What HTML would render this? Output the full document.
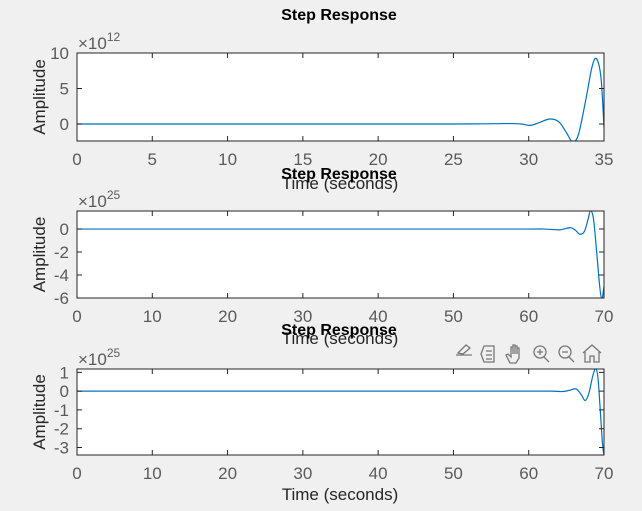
<!DOCTYPE html>
<html><head><meta charset="utf-8"><style>
html,body{margin:0;padding:0;background:#f0f0f0;}
svg{display:block;font-family:"Liberation Sans",sans-serif;}
</style></head><body>
<svg id="fig" width="642" height="511" viewBox="0 0 642 511">
<rect width="642" height="511" fill="#f0f0f0"/>
<g id="tb" fill="none" stroke="#777" stroke-width="1.3" transform="translate(0,-35)">
<g><path d="M458 388 l8 -8 l4 3 l-7 6 z M456 390 h16"/></g>
<g><path d="M484 381 h10 v16 h-10 l-3 -8 z M486 386 h6 M486 390 h6 M486 394 h6"/></g>
<g><path d="M510 398 l-4 -8 l2 -1 l3 3 v-10 h2 v7 v-9 h2 v9 v-8 h2 v8 v-6 h2 v10 l-3 5 z"/></g>
<g><circle cx="540" cy="387" r="6"/><path d="M544 392 l5 5 M537 387 h6 M540 384 v6"/></g>
<g><circle cx="565" cy="387" r="6"/><path d="M569 392 l5 5 M562 387 h6"/></g>
<g><path d="M583 388 l9 -8 l9 8 M585 387 v10 h5 v-6 h4 v6 h5 v-10"/></g>
</g>
</svg>
<script>
const t1=[0,5,10,15,20,25,27,28.5,29.5,30.1,30.7,31.4,32,32.5,32.9,33.3,33.8,34.2,34.5,34.8,35];
const y1=[0,0,0,0,0,0,0.02,0.06,0.0,-0.2,0.2,0.7,0.3,-1.2,-2.5,-1.5,3.5,8.0,9.2,6.5,-0.5];
const t2=[0,10,20,30,40,50,60,62,64,65,65.6,66.2,66.8,67.4,67.9,68.2,68.6,69,69.4,69.7,70];
const y2=[0,0,0,0,0,0,0,0,-0.07,0.05,0.12,-0.1,-0.45,-0.2,0.9,1.6,0.9,-1.8,-4.8,-6.1,-5.0];
const t3=[0,10,20,30,40,50,60,63,64.5,65.5,66.3,67,67.5,68,68.5,68.9,69.2,69.5,69.8,70];
const y3=[0,0,0,0,0,0,0,0,-0.02,0.05,0.12,-0.2,-0.5,-0.1,0.8,1.2,0.7,-1.0,-2.8,-3.4];
const xt1=[0,5,10,15,20,25,30,35],yt1=[0,5,10];
const xt2=[0,10,20,30,40,50,60,70],yt2=[-6,-4,-2,0];
const yt3=[-3,-2,-1,0,1];
const NS="http://www.w3.org/2000/svg",svg=document.getElementById('fig');
function mk(tag,attrs,parent,txt){const e=document.createElementNS(NS,tag);for(const k in attrs)e.setAttribute(k,attrs[k]);if(txt!==undefined)e.textContent=txt;(parent||svg).appendChild(e);return e;}
function smooth(P){let d='M'+P[0][0].toFixed(2)+' '+P[0][1].toFixed(2);
  for(let i=0;i<P.length-1;i++){const p0=P[Math.max(0,i-1)],p1=P[i],p2=P[i+1],p3=P[Math.min(P.length-1,i+2)];
    const c1=[p1[0]+(p2[0]-p0[0])/6,p1[1]+(p2[1]-p0[1])/6],c2=[p2[0]-(p3[0]-p1[0])/6,p2[1]-(p3[1]-p1[1])/6];
    d+=`C${c1[0].toFixed(2)} ${c1[1].toFixed(2)} ${c2[0].toFixed(2)} ${c2[1].toFixed(2)} ${p2[0].toFixed(2)} ${p2[1].toFixed(2)}`;}
  return d;}
function panel(i,top,bot,xmax,ymin,ymax,xt,yt,ts,ys,expo,titleY,xlabY){
  const L=77,R=604;
  const xs=v=>L+(v/xmax)*(R-L), yv=v=>bot-(v-ymin)/(ymax-ymin)*(bot-top);
  const g=mk('g',{});
  
  
  const r=mk('rect',{x:L,y:top,width:R-L,height:bot-top,fill:'#fff'},g);
  
  
  const cp=mk('clipPath',{id:'c'+i},g);mk('rect',{x:L,y:top,width:R-L,height:bot-top},cp);
  const P=ts.map((t,k)=>[xs(t),yv(ys[k])]);
  const ln=mk('path',{d:smooth(P),fill:'none',stroke:'#0072bd',"stroke-width":1.2,"stroke-linejoin":"round","clip-path":'url(#c'+i+')'},g);
  
  
  mk('rect',{x:L,y:top,width:R-L,height:bot-top,fill:'none',stroke:'#262626',"stroke-width":1},g);
  xt.forEach(v=>{const x=xs(v);mk('path',{d:`M${x} ${bot}v-5M${x} ${top}v5`,stroke:'#262626'},g);
    const tx=mk('text',{x:x,y:bot+24,"text-anchor":'middle',"font-size":17,fill:'#5a5a5a'},g,String(v));
    
    });
  yt.forEach(v=>{const y=yv(v);mk('path',{d:`M${L} ${y}h5M${R} ${y}h-5`,stroke:'#262626'},g);
    const tx=mk('text',{x:L-8,y:y+6,"text-anchor":'end',"font-size":17,fill:'#5a5a5a'},g,String(v));
    
    });
  const ex=mk('text',{x:78,y:top-4,"font-size":17,fill:'#5a5a5a'},g);
  
  
  mk('tspan',{},ex,'×10');mk('tspan',{dy:-8,"font-size":12},ex,expo);
  const yl=mk('text',{x:0,y:0,transform:`translate(45 ${(top+bot)/2}) rotate(-90)`,"text-anchor":'middle',"font-size":17,fill:'#262626'},g,'Amplitude');
  
  
  const xl=mk('text',{x:340,y:xlabY,"text-anchor":'middle',"font-size":17,fill:'#262626'},g,'Time (seconds)');
  
  
  const tt=mk('text',{x:339,y:titleY,"text-anchor":'middle',"font-size":16,"font-weight":'bold',fill:'#000'},g,'Step Response');
  
  
}
panel(1,53,141,35,-2.4,10,xt1,yt1,t1,y1,'12',20,189);
panel(2,211,298,70,-6,1.57,xt2,yt2,t2,y2,'25',179,344);
panel(3,369,455,70,-3.4,1.18,xt2,yt3,t3,y3,'25',335,500);
svg.appendChild(document.getElementById('tb'));
</script>
</body></html>
